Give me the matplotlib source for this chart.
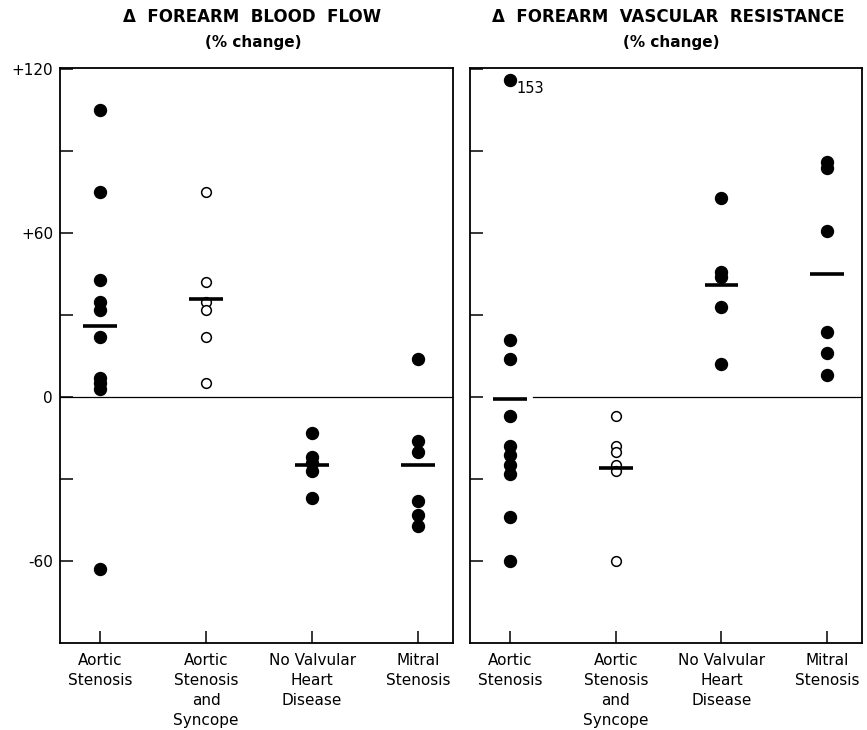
import matplotlib
matplotlib.use("Agg")
import matplotlib.pyplot as plt

plt.rcParams['font.family'] = ['DejaVu Sans']

categories = ["Aortic\nStenosis", "Aortic\nStenosis\nand\nSyncope",
              "No Valvular\nHeart\nDisease", "Mitral\nStenosis"]
open_group = [False, True, False, False]

# Forearm blood flow (% change)
flow_as = [105, 75, 43, 35, 32, 22, 7, 5, 3, -63]
flow_ass = [75, 42, 35, 32, 22, 5]
flow_nvhd = [-13, -22, -24, -27, -37]
flow_ms = [14, -16, -20, -38, -43, -47]
flow_means = [26, 36, -25, -25]

# Forearm vascular resistance (% change)
res_as = [153, 21, 14, -7, -18, -21, -25, -28, -44, -60]
res_ass = [-7, -18, -20, -25, -27, -60]
res_nvhd = [73, 46, 44, 33, 12]
res_ms = [86, 84, 61, 24, 16, 8]
res_means = [-0.5, -26, 41, 45]

off_scale_cap = 116   # where off-scale values are drawn

ytick_vals = [-60, -30, 0, 30, 60, 90, 120]
ytick_labels = ["-60", "", "0", "", "+60", "", "+120"]

W, H = 867, 730
fig = plt.figure(figsize=(W / 100, H / 100), dpi=100)

ax1 = fig.add_axes([60 / W, 1 - 643 / H, 393 / W, 575 / H])
ax2 = fig.add_axes([470 / W, 1 - 643 / H, 392 / W, 575 / H])

def draw(ax, groups, means, zero_from):
    for i, vals in enumerate(groups):
        shown = [min(v, off_scale_cap) for v in vals]
        xs = [i] * len(shown)
        if open_group[i]:
            ax.plot(xs, shown, 'o', ms=7, mfc='white', mec='black', mew=1.1,
                    ls='none', zorder=3)
        else:
            ax.plot(xs, shown, 'o', ms=8.6, mfc='black', mec='black',
                    ls='none', zorder=3)
        for v in vals:
            if v > off_scale_cap:
                ax.text(i + 0.06, off_scale_cap - 3, str(v), fontsize=10.5,
                        va='center', ha='left')
        ax.plot([i - 0.16, i + 0.16], [means[i], means[i]], color='black',
                lw=2.6, solid_capstyle='butt', zorder=4)
    ax.plot([zero_from, 3.6], [0, 0], color='black', lw=0.9, zorder=2)
    ax.set_xlim(-0.38, 3.33)
    ax.set_ylim(-90, 120.5)
    ax.set_xticks(range(4))
    ax.set_xticklabels(categories, fontsize=11, linespacing=1.42)
    ax.set_yticks(ytick_vals)
    ax.tick_params(axis='both', direction='in', length=9, width=1.1,
                   colors='black')
    ax.tick_params(axis='x', pad=7)
    for s in ax.spines.values():
        s.set_linewidth(1.3)

draw(ax1, [flow_as, flow_ass, flow_nvhd, flow_ms], flow_means, -0.38)
draw(ax2, [res_as, res_ass, res_nvhd, res_ms], res_means, 0.22)

ax1.set_yticklabels(ytick_labels, fontsize=11)
ax1.tick_params(axis='y', pad=5)
ax2.set_yticklabels([])

fig.text(252 / W, 1 - 17 / H, "Δ  FOREARM  BLOOD  FLOW", ha='center',
         va='center', fontsize=12, fontweight='bold')
fig.text(253 / W, 1 - 43 / H, "(% change)", ha='center', va='center',
         fontsize=11, fontweight='bold')
fig.text(668 / W, 1 - 17 / H, "Δ  FOREARM  VASCULAR  RESISTANCE", ha='center',
         va='center', fontsize=12, fontweight='bold')
fig.text(671 / W, 1 - 43 / H, "(% change)", ha='center', va='center',
         fontsize=11, fontweight='bold')

fig.savefig("out.png", dpi=100)
